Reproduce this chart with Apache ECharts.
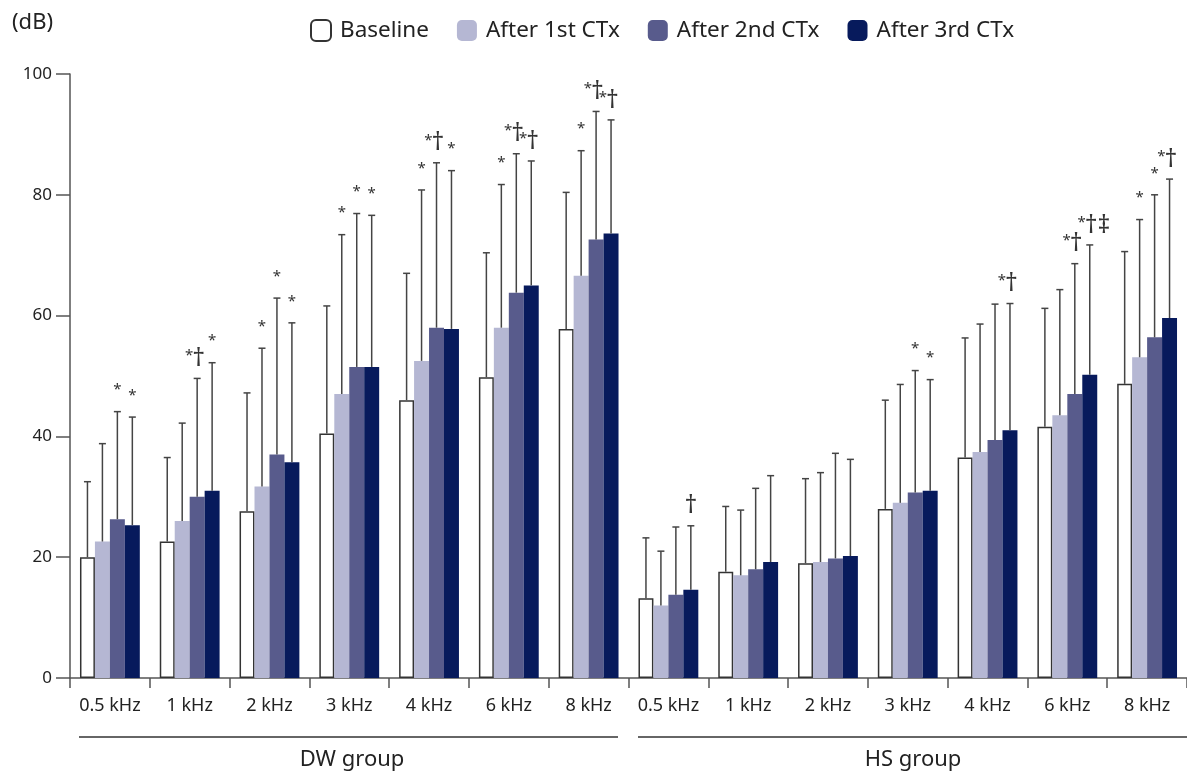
<!DOCTYPE html>
<html><head><meta charset="utf-8">
<script src="https://cdn.jsdelivr.net/npm/echarts@6/dist/echarts.min.js"></script>
<style>html,body{margin:0;padding:0;background:#fff}#c{width:1187px;height:774px}</style>
</head><body><div id="c"></div>
<script>
// ---- data ----
const categories = ['0.5 kHz','1 kHz','2 kHz','3 kHz','4 kHz','6 kHz','8 kHz',
                    '0.5 kHz','1 kHz','2 kHz','3 kHz','4 kHz','6 kHz','8 kHz'];
const groupLabels = ['DW group','HS group'];
const seriesNames = ['Baseline','After 1st CTx','After 2nd CTx','After 3rd CTx'];
const yTicks = [0,20,40,60,80,100];

const baseline = [20.0,22.6,27.6,40.5,46.0,49.8,57.8, 13.2,17.6,19.0,28.0,36.5,41.6,48.7];
const ctx1     = [22.6,26.0,31.7,47.0,52.5,58.0,66.6, 12.0,17.0,19.2,29.0,37.4,43.5,53.1];
const ctx2     = [26.3,30.0,37.0,51.5,58.0,63.8,72.6, 13.8,18.0,19.8,30.7,39.4,47.0,56.4];
const ctx3     = [25.3,31.0,35.7,51.5,57.8,65.0,73.6, 14.6,19.2,20.2,31.0,41.0,50.2,59.6];

// upper end of each error bar (mean + SD)
const baselineUpper = [32.5,36.5,47.2,61.6,67.0,70.4,80.4, 23.2,28.4,33.0,46.0,56.3,61.2,70.6];
const ctx1Upper     = [38.8,42.2,54.6,73.4,80.8,81.7,87.3, 21.0,27.8,34.0,48.6,58.6,64.3,75.9];
const ctx2Upper     = [44.1,49.6,62.9,76.9,85.3,86.8,93.8, 25.0,31.4,37.2,50.9,61.9,68.6,80.0];
const ctx3Upper     = [43.2,52.2,58.8,76.6,84.0,85.6,92.4, 25.2,33.5,36.2,49.4,62.0,71.7,82.6];

// significance marks
const baselineMarks = ['','','','','','','', '','','','','','',''];
const ctx1Marks     = ['','','*','*','*','*','*', '','','','','','','*'];
const ctx2Marks     = ['*','*†','*','*','*†','*†','*†', '','','','*','','*†','*'];
const ctx3Marks     = ['*','*','*','*','*','*†','*†', '†','','','*','*†','*†‡','*†'];

// ---- build ----
const means = [baseline, ctx1, ctx2, ctx3];
const uppers = [baselineUpper, ctx1Upper, ctx2Upper, ctx3Upper];
const marks = [baselineMarks, ctx1Marks, ctx2Marks, ctx3Marks];
const colors = ['#ffffff','#b5b7d3','#585b8c','#071a5c'];
const FONT = 'Noto Sans';

const errData = [], errLabels = [];
for (let s = 0; s < 4; s++) {
  for (let c = 0; c < categories.length; c++) {
    errData.push([c, s, means[s][c], uppers[s][c]]);
    errLabels.push(marks[s][c]);
  }
}

function renderErr(params, api) {
  const c = api.value(0), s = api.value(1), mean = api.value(2), up = api.value(3);
  const bandW = api.size([1, 0])[0];
  const barW = bandW * 0.75 / 4;
  const b = api.coord([c, mean]);
  const t = api.coord([c, up]);
  const x = b[0] + (s - 1.5) * barW;
  const stroke = {stroke: '#444', lineWidth: 1.5};
  const children = [
    {type: 'line', shape: {x1: x, y1: b[1], x2: x, y2: t[1]}, style: stroke},
    {type: 'line', shape: {x1: x - 3.5, y1: t[1], x2: x + 3.5, y2: t[1]}, style: stroke}
  ];
  const lab = errLabels[params.dataIndex];
  const star = {fill: '#333', fontFamily: FONT, fontSize: 15, verticalAlign: 'bottom'};
  const dag = {fill: '#333', fontFamily: FONT, fontSize: 25, verticalAlign: 'bottom'};
  if (lab) {
    if (lab[0] === '*' && lab.length > 1) {
      children.push({type: 'text', style: Object.assign({}, star, {text: '*', x: x - 4, y: t[1] - 15, align: 'right'})});
      children.push({type: 'text', style: Object.assign({}, dag, {text: lab.slice(1), x: x - 5, y: t[1] - 7, align: 'left'})});
    } else if (lab === '*') {
      children.push({type: 'text', style: Object.assign({}, star, {text: lab, x: x, y: t[1] - 14, align: 'center'})});
    } else {
      children.push({type: 'text', style: Object.assign({}, dag, {text: lab, x: x, y: t[1] - 7, align: 'center'})});
    }
  }
  return {type: 'group', children: children};
}

const chart = echarts.init(document.getElementById('c'), null, {renderer: 'canvas'});
const barSeries = seriesNames.map((n, i) => ({
  name: n, type: 'bar', data: means[i],
  barGap: '0%', barCategoryGap: '25%',
  itemStyle: i === 0 ? {color: colors[0], borderColor: '#333', borderWidth: 1.5} : {color: colors[i]},
  emphasis: {disabled: true}
}));

chart.setOption({
  animation: false,
  textStyle: {fontFamily: FONT},
  legend: {
    data: seriesNames, left: 310, top: 19, padding: 0,
    itemWidth: 20, itemHeight: 21, itemGap: 28,
    textStyle: {fontSize: 22.5, color: '#222', fontFamily: FONT, padding: [0, 0, 0, 4]}
  },
  grid: {left: 70, right: -4, top: 74, bottom: 96, containLabel: false},
  xAxis: {
    type: 'category', data: categories,
    axisLine: {lineStyle: {color: '#555', width: 1.5}},
    axisTick: {show: true, alignWithLabel: false, length: 10, lineStyle: {color: '#555', width: 1.5}},
    axisLabel: {fontSize: 18, color: '#222', margin: 19, interval: 0, fontFamily: FONT}
  },
  yAxis: {
    type: 'value', min: 0, max: 100, interval: 20,
    splitLine: {show: false},
    axisLine: {show: true, lineStyle: {color: '#555', width: 1.5}},
    axisTick: {show: true, length: 14, lineStyle: {color: '#555', width: 1.5}},
    axisLabel: {fontSize: 17, color: '#222', margin: 18, fontFamily: FONT,
      formatter: v => yTicks.includes(v) ? String(v) : ''}
  },
  graphic: [
    {type: 'text', left: 12, top: 12, style: {text: '(dB)', fontSize: 22, fill: '#222', fontFamily: FONT}},
    {type: 'line', shape: {x1: 79, y1: 737, x2: 618, y2: 737}, style: {stroke: '#333', lineWidth: 1.5}},
    {type: 'line', shape: {x1: 638, y1: 737, x2: 1187, y2: 737}, style: {stroke: '#333', lineWidth: 1.5}},
    {type: 'text', x: 352, y: 760, style: {text: groupLabels[0], fontSize: 22, fill: '#222', fontFamily: FONT, align: 'center', verticalAlign: 'middle'}},
    {type: 'text', x: 913, y: 760, style: {text: groupLabels[1], fontSize: 22, fill: '#222', fontFamily: FONT, align: 'center', verticalAlign: 'middle'}}
  ],
  series: barSeries.concat([{
    type: 'custom', renderItem: renderErr, data: errData, z: 5,
    encode: {x: 0, y: [2, 3]}, silent: true
  }])
});
</script></body></html>
